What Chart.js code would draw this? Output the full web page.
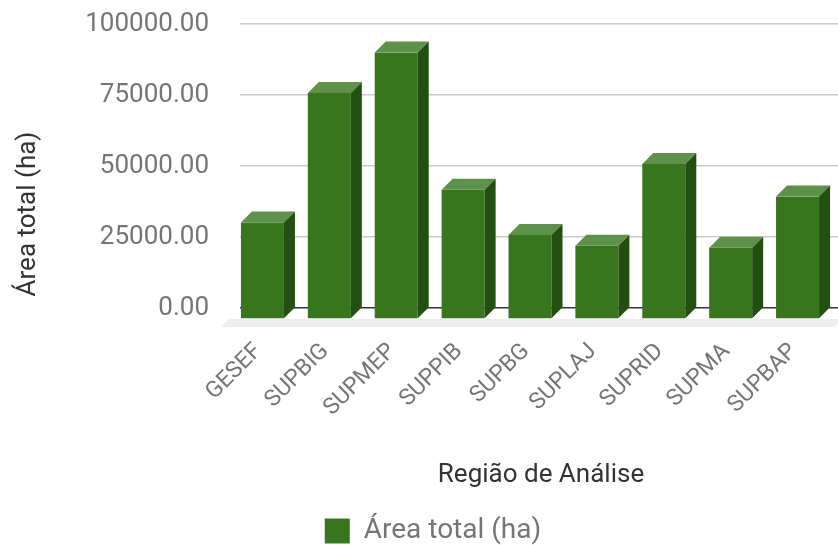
<!DOCTYPE html>
<html>
<head>
<meta charset="utf-8">
<script src="https://cdn.jsdelivr.net/npm/chart.js@4/dist/chart.umd.min.js"></script>
<style>
  html, body { margin: 0; padding: 0; background: #fff; }
  #wrap { width: 838px; height: 545px; }
</style>
</head>
<body>
<div id="wrap"><canvas id="chart"></canvas></div>
<script>
// data
const regions = ['GESEF', 'SUPBIG', 'SUPMEP', 'SUPPIB', 'SUPBG', 'SUPLAJ', 'SUPRID', 'SUPMA', 'SUPBAP'];
const areaTotal = [34000, 79600, 93800, 45500, 29600, 25800, 54600, 25100, 43100];
const yTicks = [0, 25000, 50000, 75000, 100000];
const seriesLabel = 'Área total (ha)';
const xTitle = 'Região de Análise';
const yTitle = 'Área total (ha)';

const DEPTH = 11;
const OVERHANG = 4; // back plane runs a bit past the right edge
const FRONT = '#38761d', TOP = '#5e9149', SIDE = '#244f12';

// fake 3D: front face pushed down-left, top and right side faces added
const bars3d = {
    id: 'bars3d',
    afterLayout(chart) {
        const x = chart.scales.x;
        chart.chartArea.right += OVERHANG;
        chart.chartArea.width += OVERHANG;
        x.right += OVERHANG;
        x.width += OVERHANG;
        x.configure();
    },
    beforeDatasetsDraw(chart) {
        const ctx = chart.ctx;
        const area = chart.chartArea;
        const y0 = chart.scales.y.getPixelForValue(0);
        ctx.save();
        // floor shadow
        ctx.fillStyle = '#eeeeee';
        ctx.beginPath();
        ctx.moveTo(area.left - DEPTH, y0 + DEPTH);
        ctx.lineTo(area.right, y0 + DEPTH);
        ctx.lineTo(area.right - 8, y0 + DEPTH + 8);
        ctx.lineTo(area.left - DEPTH - 8, y0 + DEPTH + 8);
        ctx.closePath();
        ctx.fill();

        chart.getDatasetMeta(0).data.forEach(bar => {
            const p = bar.getProps(['x', 'y', 'base', 'width'], true);
            const l = p.x - p.width / 2 - DEPTH, r = p.x + p.width / 2 - DEPTH;
            const t = p.y + DEPTH, b = p.base + DEPTH;
            ctx.fillStyle = FRONT;
            ctx.fillRect(l, t, r - l, b - t);
            ctx.fillStyle = TOP;
            ctx.beginPath();
            ctx.moveTo(l, t);
            ctx.lineTo(l + DEPTH, t - DEPTH);
            ctx.lineTo(r + DEPTH, t - DEPTH);
            ctx.lineTo(r, t);
            ctx.closePath();
            ctx.fill();
            ctx.fillStyle = SIDE;
            ctx.beginPath();
            ctx.moveTo(r, t);
            ctx.lineTo(r + DEPTH, t - DEPTH);
            ctx.lineTo(r + DEPTH, b - DEPTH);
            ctx.lineTo(r, b);
            ctx.closePath();
            ctx.fill();
        });
        ctx.restore();
        return false;
    },
    afterDraw(chart) {
        const ctx = chart.ctx;
        ctx.save();
        ctx.translate(28, 214);
        ctx.rotate(-Math.PI / 2);
        ctx.font = '26px Roboto';
        ctx.fillStyle = '#333';
        ctx.textAlign = 'center';
        ctx.textBaseline = 'middle';
        ctx.fillText(yTitle, 0, 0);
        ctx.restore();
    }
};

new Chart(document.getElementById('chart'), {
    type: 'bar',
    data: {
        labels: regions,
        datasets: [{
            label: seriesLabel,
            data: areaTotal,
            backgroundColor: FRONT,
            barPercentage: 0.643,
            categoryPercentage: 1
        }]
    },
    options: {
        responsive: true,
        maintainAspectRatio: false,
        animation: false,
        layout: { padding: { left: 28, right: 0, top: 24, bottom: -10 } },
        scales: {
            x: {
                grid: { display: false },
                border: { display: false },
                ticks: {
                    color: '#757575',
                    font: { family: 'Roboto', size: 23 },
                    minRotation: 45,
                    maxRotation: 45,
                    labelOffset: -15,
                    padding: 22
                },
                title: {
                    display: true,
                    text: xTitle,
                    color: '#333',
                    font: { family: 'Roboto', size: 26 },
                    padding: { top: 0, bottom: 16 }
                },
                afterFit: s => {
                    s.height = 199;
                    s.paddingLeft = 0;
                    s.paddingRight = 0;
                }
            },
            y: {
                min: 0,
                max: 100000,
                afterBuildTicks: s => { s.ticks = yTicks.map(v => ({ value: v })); },
                grid: {
                    drawTicks: true,
                    tickLength: 31,
                    tickColor: 'rgba(0,0,0,0)',
                    color: c => c.tick && c.tick.value === 0 ? '#333333' : '#cccccc',
                    lineWidth: 1.5
                },
                border: { display: false },
                ticks: {
                    color: '#757575',
                    font: { family: 'Roboto', size: 26 },
                    padding: 0,
                    callback: v => Number(v).toFixed(2)
                },
                afterFit: s => { s.width = 212; }
            }
        },
        plugins: {
            legend: {
                position: 'bottom',
                labels: {
                    color: '#757575',
                    font: { family: 'Roboto', size: 28 },
                    boxWidth: 25,
                    boxHeight: 25,
                    padding: 10
                }
            },
            tooltip: { enabled: false }
        }
    },
    plugins: [bars3d]
});
</script>
</body>
</html>
